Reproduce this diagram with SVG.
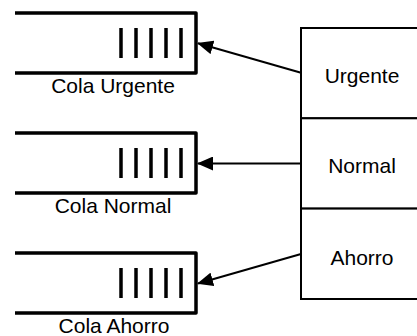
<svg xmlns="http://www.w3.org/2000/svg" width="417" height="336" viewBox="0 0 417 336">
  <style>
    .queue { fill: none; stroke: #000; stroke-width: 3.5; stroke-linejoin: round; }
    .slot { stroke: #000; stroke-width: 3.5; }
    .label { font-family: "Liberation Sans", Arial, sans-serif; font-size: 21px; fill: #000; text-anchor: middle; }
    .panel { fill: #fff; stroke: #000; stroke-width: 2; }
    .edge { fill: none; stroke: #000; stroke-width: 2; }
  </style>
  <defs>
    <marker id="head" markerUnits="userSpaceOnUse" markerWidth="16" markerHeight="14" viewBox="0 0 16 14" refX="15" refY="7" orient="auto">
      <path d="M0,0 L16,7 L0,14 z" fill="#000"/>
    </marker>
    <g id="slots">
      <line class="slot" x1="121" y1="-15" x2="121" y2="15"/>
      <line class="slot" x1="136" y1="-15" x2="136" y2="15"/>
      <line class="slot" x1="151" y1="-15" x2="151" y2="15"/>
      <line class="slot" x1="166" y1="-15" x2="166" y2="15"/>
      <line class="slot" x1="181" y1="-15" x2="181" y2="15"/>
    </g>
  </defs>
  <rect width="417" height="336" fill="#fff"/>

  <!-- queues -->
  <g id="cola-urgente">
    <path class="queue" d="M15,13 H196 V73 H15"/>
    <use href="#slots" y="43"/>
    <text class="label" x="113" y="93">Cola Urgente</text>
  </g>
  <g id="cola-normal">
    <path class="queue" d="M15,133 H196 V193 H15"/>
    <use href="#slots" y="163"/>
    <text class="label" x="113" y="213">Cola Normal</text>
  </g>
  <g id="cola-ahorro">
    <path class="queue" d="M15,253 H196 V313 H15"/>
    <use href="#slots" y="283"/>
    <text class="label" x="114" y="333">Cola Ahorro</text>
  </g>

  <!-- priority panel -->
  <g id="urgente">
    <rect class="panel" x="301" y="28" width="130" height="90.3"/>
    <text class="label" x="362" y="83">Urgente</text>
  </g>
  <g id="normal">
    <rect class="panel" x="301" y="118.3" width="130" height="90.3"/>
    <text class="label" x="362" y="173">Normal</text>
  </g>
  <g id="ahorro">
    <rect class="panel" x="301" y="208.6" width="130" height="90.4"/>
    <text class="label" x="362" y="265">Ahorro</text>
  </g>

  <!-- connectors -->
  <g id="connectors">
    <line class="edge" x1="301" y1="72.7" x2="198" y2="43.3" marker-end="url(#head)"/>
    <line class="edge" x1="301" y1="163.5" x2="198" y2="163.5" marker-end="url(#head)"/>
    <line class="edge" x1="301" y1="254" x2="198" y2="283.5" marker-end="url(#head)"/>
  </g>
</svg>
